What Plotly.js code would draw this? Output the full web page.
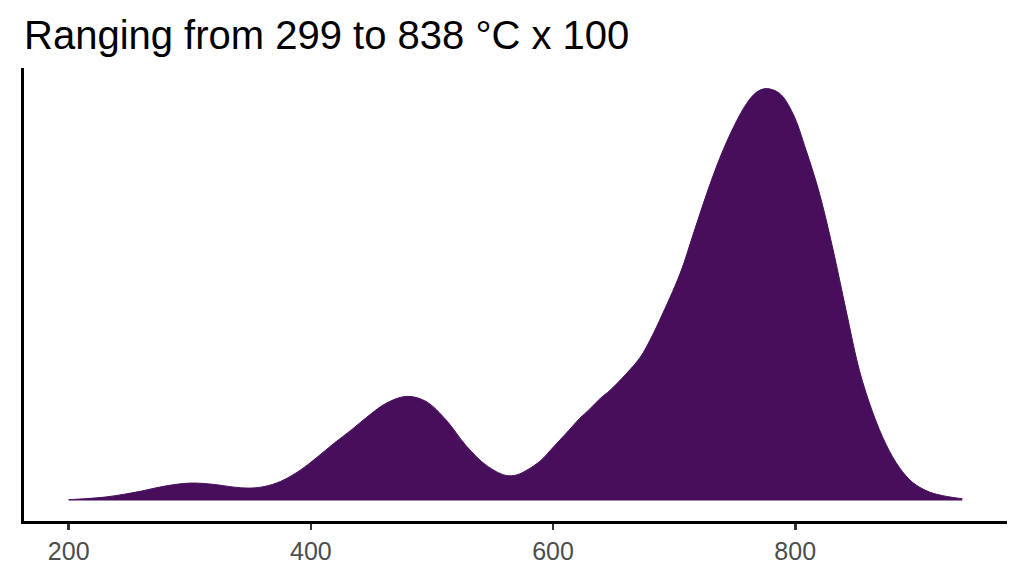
<!DOCTYPE html>
<html>
<head>
<meta charset="utf-8">
<script src="https://cdn.plot.ly/plotly-3.0.1.min.js"></script>
<style>html,body{margin:0;padding:0;background:#fff;}#chart{width:1024px;height:576px;}</style>
</head>
<body>
<div id="chart"></div>
<script>
// Temperature (°C x 100) and estimated density
const temperature = [200,215,230,245,260,278,300,320,335,349,362,375,391,405,419,433,446,462,479,495,512,528,545,561,570,578,590,600,610,622,630,639,647,660,672,680,688,705,716,727,738,749,760,768,776,787,798,809,820,831,842,853,864,875,886,897,911,925,938];
const density = [0.008,0.018,0.033,0.060,0.093,0.140,0.173,0.160,0.135,0.123,0.140,0.190,0.300,0.430,0.570,0.700,0.830,0.970,1.040,0.990,0.800,0.550,0.350,0.250,0.255,0.300,0.400,0.530,0.660,0.820,0.910,1.020,1.100,1.260,1.430,1.600,1.800,2.270,2.670,3.070,3.430,3.730,3.970,4.080,4.117,4.070,3.870,3.500,3.070,2.520,1.900,1.300,0.880,0.560,0.330,0.180,0.083,0.040,0.017].map(v => v / 1000);
const xTicks = [200, 400, 600, 800];
const titleText = "Ranging from 299 to 838 °C x 100";

const fillColor = '#470F5B';
const xMin = Math.min(...temperature), xMax = Math.max(...temperature);
const xPad = (xMax - xMin) * 0.05;
const yMax = Math.max(...density);

const trace = {
  x: temperature,
  y: density,
  type: 'scatter',
  mode: 'lines',
  fill: 'tozeroy',
  fillcolor: fillColor,
  line: {color: fillColor, width: 1, shape: 'spline', smoothing: 1},
  hoverinfo: 'skip'
};

const layout = {
  width: 1024,
  height: 576,
  paper_bgcolor: '#ffffff',
  plot_bgcolor: '#ffffff',
  showlegend: false,
  margin: {l: 24, r: 17, t: 68, b: 55, pad: 0},
  font: {family: 'Liberation Sans, Arial, sans-serif'},
  title: {
    text: titleText,
    font: {family: 'Liberation Sans, Arial, sans-serif', size: 40, color: '#000000'},
    x: 24 / 1024, xanchor: 'left', xref: 'container',
    y: 1 - 35 / 576, yanchor: 'middle', yref: 'container'
  },
  xaxis: {
    range: [xMin - xPad, xMax + xPad],
    tickvals: xTicks,
    ticktext: xTicks.map(String),
    ticks: 'outside', ticklen: 6, tickwidth: 2.7, tickcolor: '#333333',
    tickfont: {size: 25, color: '#4D4D4D'},
    showline: true, linecolor: '#000000', linewidth: 2.7,
    showgrid: false, zeroline: false
  },
  yaxis: {
    range: [-0.05 * yMax, 1.05 * yMax],
    showticklabels: false, ticks: '',
    showline: true, linecolor: '#000000', linewidth: 2.7,
    showgrid: false, zeroline: false
  }
};

Plotly.newPlot('chart', [trace], layout, {staticPlot: true, displayModeBar: false});
</script>
</body>
</html>
